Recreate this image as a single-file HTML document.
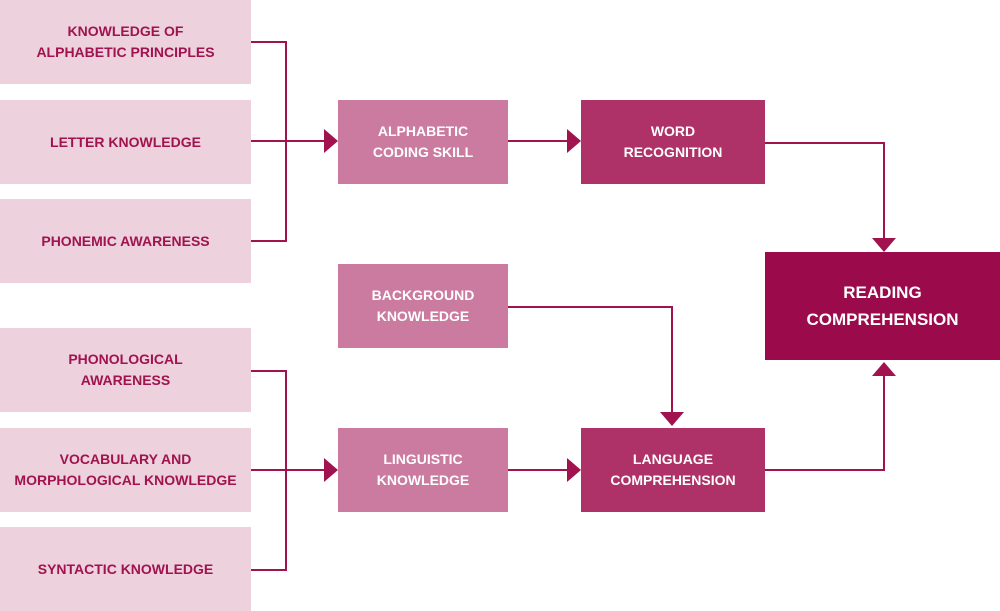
<!DOCTYPE html>
<html><head><style>
body{margin:0;width:1000px;height:611px;background:#fff;position:relative;overflow:hidden;font-family:"Liberation Sans",sans-serif;}
.b{position:absolute;display:flex;align-items:center;justify-content:center;text-align:center;font-weight:bold;font-size:14px;line-height:21px;}
.l{left:0;width:251px;height:84px;background:#edd1dd;color:#a0134f;}
.m{left:338px;width:170px;height:84px;background:#cc7ba0;color:#fff;}
.r{left:581px;width:184px;height:84px;background:#ae3267;color:#fff;}
svg{position:absolute;left:0;top:0;}
</style></head><body>
<div class="b l" style="top:0">KNOWLEDGE OF<br>ALPHABETIC PRINCIPLES</div>
<div class="b l" style="top:100px">LETTER KNOWLEDGE</div>
<div class="b l" style="top:199px">PHONEMIC AWARENESS</div>
<div class="b l" style="top:328px">PHONOLOGICAL<br>AWARENESS</div>
<div class="b l" style="top:428px">VOCABULARY AND<br>MORPHOLOGICAL KNOWLEDGE</div>
<div class="b l" style="top:527px;height:84px">SYNTACTIC KNOWLEDGE</div>
<div class="b m" style="top:100px">ALPHABETIC<br>CODING SKILL</div>
<div class="b m" style="top:264px">BACKGROUND<br>KNOWLEDGE</div>
<div class="b m" style="top:428px">LINGUISTIC<br>KNOWLEDGE</div>
<div class="b r" style="top:100px">WORD<br>RECOGNITION</div>
<div class="b r" style="top:428px">LANGUAGE<br>COMPREHENSION</div>
<div class="b" style="left:765px;top:252px;width:235px;height:108px;background:#9b0b4b;color:#fff;font-size:17px;line-height:27px;">READING<br>COMPREHENSION</div>
<svg width="1000" height="611" fill="none" stroke="#a0134f" stroke-width="2">
<path d="M251 42H286V241H251M251 141H326"/>
<path d="M251 371H286V570H251M251 470H326"/>
<path d="M508 141H567M508 470H567"/>
<path d="M765 143H884V240M765 470H884V376"/>
<path d="M508 307H672V414"/>
<g fill="#a0134f" stroke="none">
<polygon points="324,129 338,141 324,153"/>
<polygon points="567,129 581,141 567,153"/>
<polygon points="324,458 338,470 324,482"/>
<polygon points="567,458 581,470 567,482"/>
<polygon points="872,238 896,238 884,252"/>
<polygon points="872,376 896,376 884,362"/>
<polygon points="660,412 684,412 672,426"/>
</g>
</svg>
</body></html>
